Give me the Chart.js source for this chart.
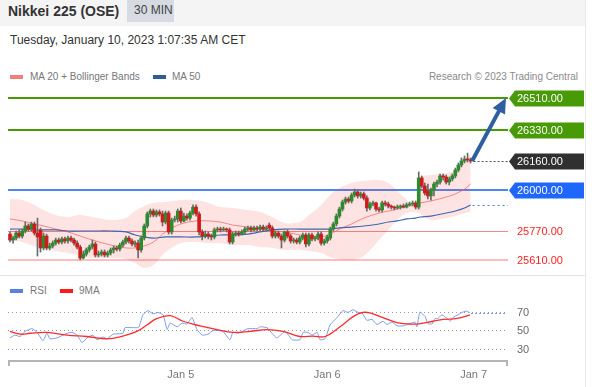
<!DOCTYPE html>
<html><head><meta charset="utf-8">
<script src="https://cdn.jsdelivr.net/npm/chart.js@4.4.1/dist/chart.umd.min.js"></script>
<style>
html,body{margin:0;padding:0;background:#fff}
body{width:599px;height:387px;position:relative;overflow:hidden;font-family:"Liberation Sans",Arial,sans-serif}
.abs{position:absolute;white-space:nowrap}
#hdr{left:0;top:0;width:585px;height:26px;background:#f4f4f4}
#title{left:8px;top:4px;font-size:14px;line-height:14px;font-weight:bold;color:#333}
#tf{left:127px;top:0;width:47px;height:22px;background:#d6dae1}
#tfTxt{left:134px;top:4px;font-size:12px;line-height:12px;color:#444}
#date{left:10px;top:34px;font-size:12px;line-height:12px;color:#333}
.lg{font-size:10px;line-height:10px;color:#777}
.sw{width:13px;height:4px}
#vline{left:585px;top:0;width:1px;height:387px;background:#e8e8e8}
#hline{left:0;top:275px;width:585px;height:1px;background:#e4e4e4}
canvas{position:absolute;left:0}
</style></head>
<body>
<div id="hdr" class="abs"></div>
<div id="title" class="abs">Nikkei 225 (OSE)</div>
<div id="tf" class="abs"></div>
<div id="tfTxt" class="abs">30 MIN</div>
<div id="date" class="abs">Tuesday, January 10, 2023 1:07:35 AM CET</div>
<div class="abs sw" style="left:10px;top:75px;background:#f08080"></div>
<div class="abs lg" style="left:30px;top:72px">MA 20 + Bollinger Bands</div>
<div class="abs sw" style="left:153px;top:75px;background:#2f5d9c"></div>
<div class="abs lg" style="left:172px;top:72px">MA 50</div>
<div class="abs lg" style="right:21px;top:72px;color:#8a8a8a">Research © 2023 Trading Central</div>
<div class="abs sw" style="left:10px;top:289px;background:#5b80e0"></div>
<div class="abs lg" style="left:30px;top:286px">RSI</div>
<div class="abs sw" style="left:60px;top:289px;background:#ff1a1a"></div>
<div class="abs lg" style="left:79px;top:286px">9MA</div>
<div id="vline" class="abs"></div>
<div id="hline" class="abs"></div>
<canvas id="main" width="599" height="185" style="top:88px"></canvas>
<canvas id="rsi" width="599" height="91" style="top:296px"></canvas>
<script>
// ---- candle data (30 min bars) ----
const opens=[25754,25721,25732,25760,25743,25771,25799,25782,25810,25760,
25777,25677,25743,25677,25688,25704,25721,25710,25727,25716,
25732,25721,25704,25682,25621,25643,25666,25682,25699,25638,
25643,25654,25638,25649,25666,25677,25671,25693,25710,25732,
25716,25699,25704,25666,25732,25799,25866,25882,25860,25877,
25866,25821,25871,25766,25832,25838,25882,25827,25854,25843,
25871,25904,25866,25766,25743,25754,25743,25738,25777,25782,
25777,25782,25777,25710,25754,25760,25754,25766,25782,25788,
25777,25788,25782,25793,25782,25804,25788,25743,25760,25743,
25721,25766,25743,25716,25721,25710,25732,25749,25699,25749,
25727,25732,25754,25704,25716,25732,25782,25810,25854,25893,
25932,25949,25938,25971,25988,25966,25977,25954,25899,25921,
25927,25893,25888,25927,25921,25910,25904,25899,25904,25910,
25904,25916,25921,25927,25904,26066,26021,25993,25966,25999,
26032,26043,26077,26071,26043,26060,26077,26110,26138,26160,
26171,26166];
const highs=[25766,25743,25771,25777,25782,25821,25810,25821,25821,25843,
25788,25760,25754,25704,25716,25732,25732,25738,25738,25743,
25743,25732,25716,25693,25660,25677,25693,25721,25710,25660,
25666,25666,25660,25677,25688,25688,25704,25721,25743,25743,
25727,25716,25721,25743,25810,25877,25893,25893,25888,25888,
25882,25882,25882,25843,25854,25893,25899,25871,25866,25882,
25916,25916,25877,25777,25771,25766,25754,25788,25793,25793,
25793,25788,25788,25766,25771,25771,25777,25793,25799,25799,
25799,25799,25804,25804,25799,25816,25799,25771,25771,25754,
25771,25777,25754,25732,25732,25743,25760,25760,25760,25760,
25743,25766,25766,25727,25749,25793,25821,25866,25904,25943,
25960,25960,25982,26004,25999,25988,25988,25966,25932,25938,
25932,25904,25938,25938,25932,25916,25910,25916,25916,25921,
25927,25932,25938,25938,26099,26077,26038,26032,26010,26043,
26054,26088,26088,26082,26071,26088,26121,26149,26177,26188,
26204,26177];
const lows=[25710,25704,25721,25732,25732,25760,25771,25771,25749,25632,
25654,25666,25666,25666,25677,25693,25699,25699,25704,25704,
25710,25693,25671,25610,25616,25632,25654,25671,25627,25627,
25632,25627,25627,25638,25649,25660,25660,25682,25699,25704,
25688,25682,25621,25654,25721,25788,25849,25849,25849,25854,
25799,25810,25754,25754,25821,25821,25816,25821,25832,25832,
25860,25854,25749,25721,25732,25727,25721,25727,25766,25766,
25771,25766,25699,25699,25743,25743,25749,25754,25771,25766,
25771,25771,25771,25771,25771,25777,25732,25732,25732,25677,
25710,25732,25704,25704,25699,25699,25721,25682,25688,25716,
25716,25721,25693,25693,25704,25721,25771,25799,25843,25882,
25921,25927,25927,25960,25954,25954,25943,25882,25888,25910,
25882,25877,25877,25910,25899,25893,25888,25893,25893,25899,
25899,25910,25910,25893,25893,26010,25971,25949,25943,25966,
26016,26032,26054,26032,26027,26049,26066,26099,26127,26149,
26154,26149];
const closes=[25721,25732,25760,25743,25771,25799,25782,25810,25760,25738,
25677,25743,25677,25688,25704,25721,25710,25727,25716,25732,
25721,25704,25682,25621,25643,25666,25682,25699,25638,25643,
25654,25638,25649,25666,25677,25671,25693,25710,25732,25716,
25699,25704,25666,25732,25799,25866,25882,25860,25877,25866,
25821,25871,25766,25832,25838,25882,25827,25854,25843,25871,
25904,25866,25766,25743,25754,25743,25738,25777,25782,25777,
25782,25777,25710,25754,25760,25754,25766,25782,25788,25777,
25788,25782,25793,25782,25788,25788,25743,25760,25743,25721,
25766,25743,25716,25721,25710,25732,25749,25699,25749,25727,
25732,25754,25704,25716,25738,25782,25810,25854,25893,25932,
25949,25938,25971,25988,25966,25977,25954,25899,25921,25927,
25893,25888,25927,25921,25910,25904,25899,25904,25910,25904,
25916,25921,25927,25904,26066,26021,25982,25966,25999,26032,
26043,26077,26071,26043,26060,26077,26110,26138,26160,26171,
26166,26160];

// ---- indicators (read at sample bars) ----
const bandIdx=[0,4,8,11,15,19,23,27,33,38,41,44,47,51,56,61,65,69,73,78,82,86,90,95,98,102,105,108,112,116,121,124,127,130,133,134.5,138,143,146,149,151];
const bbUpper=[25949,25943,25916,25888,25860,25849,25860,25849,25832,25843,25882,25910,25927,25932,25943,25943,25927,25904,25899,25888,25877,25849,25816,25821,25860,25916,25971,26010,26038,26049,26054,26038,25993,25943,25904,26066,26082,26093,26110,26166,26204];
const bbLower=[25721,25710,25688,25677,25660,25649,25632,25621,25621,25616,25593,25566,25582,25654,25704,25710,25704,25704,25693,25693,25682,25677,25666,25666,25660,25649,25627,25616,25610,25632,25721,25777,25832,25871,25877,25866,25832,25843,25854,25871,25877];
const ma20=[25838,25827,25810,25799,25782,25766,25743,25721,25693,25677,25677,25688,25710,25766,25810,25827,25827,25821,25804,25793,25782,25771,25766,25749,25743,25738,25754,25782,25810,25843,25871,25882,25893,25910,25916,25927,25938,25960,25977,26004,26032];
const ma50=[25782,25782,25777,25777,25777,25771,25771,25771,25771,25766,25749,25738,25732,25738,25738,25738,25743,25749,25749,25754,25766,25777,25782,25782,25782,25782,25782,25788,25793,25799,25810,25821,25827,25838,25843,25849,25854,25871,25882,25899,25916];

// ---- levels ----
const levels=[26510,26330,26160,26000,25770,25610];
const arrowFrom=[151.5,26160];
const arrowTo=[162.6,26510];

// ---- RSI ----
const rsiIdx=[0,1.6,3.3,4.9,7.2,8.9,10.8,12.1,13.1,15.4,18.7,20.3,22,23.6,25.6,27.2,28.5,30.5,31.8,33.8,37,37.7,41.6,42.3,43.6,45.2,46.9,48.5,50.2,51.5,52.5,54.8,56.4,58,59.7,61.3,63,64.9,66.6,69.8,72.1,73.1,74.8,78,81,82,84.3,85.9,87.5,90.2,92.5,95.1,96.1,97.7,99,100.7,101.6,103.3,104.9,107.2,109.2,110.8,112.5,114.1,115.4,117,118.7,120.3,122.3,123.6,125.2,126.9,128.9,131.1,132.8,133.4,134.4,136.1,137,138.4,139.3,140.3,141.6,143.3,144.3,145.2,146.9,148.5,149.8,150.8];
const rsiVal=[42,45,43.5,49,52,48,39,47,41,42,47,48,45,37,43,45,40,43,41,46,47,53,53,54,67,71.5,68,69.5,67,51,58,54,58,57,64,51,45,46,50,49,40,48,47,52,52,54,53,47,42,49,40,40,48,48,45,48,40,41,56,64,71.5,69.5,72.5,69.5,69,61,62,56.5,60,56.5,59,55,55,57.5,59,54,70,65,57.5,57,63,63,67,63,60,64,67,70,71,69];
const rsiMaIdx=[0,3.3,6.6,12.1,18.7,25.2,31.8,37,41.6,44.9,48.2,52.5,56.7,62.3,67.9,73.1,78.7,84.3,89.5,95.1,99.3,103.3,108.2,112.5,115.7,118,122.3,126.9,131.1,133.4,138.7,142,146.6,150.8];
const rsiMaVal=[49,46,47,48,45,43.5,41,44,49,56,63,66,60,55,51,48,49,51,49,43.5,44,43.5,54,65,69.5,69,64,58.5,57,57,60,62,63,67];
const rsiTicks=[70,50,30];
const dayTicks=[56,104,152];
const dayLabels=['Jan 5','Jan 6','Jan 7'];

const X_MIN=-0.66, X_MAX=163.27;
const FONT='"Liberation Sans", Arial, sans-serif';

const levelStyle=[
  {line:'#489a06', w:2, box:'#489a06', txt:'#fff'},
  {line:'#489a06', w:2, box:'#489a06', txt:'#fff'},
  {line:'#555', w:1, dash:[2,2], box:'#303030', txt:'#fff', current:true},
  {line:'#4f86f0', w:2, box:'#1f66fa', txt:'#fff'},
  {line:'#f08a8a', w:1, box:null, txt:'#ff2222'},
  {line:'#ffbcbc', w:2, box:null, txt:'#ff2222'}
];

const pts=(xs,ys)=>xs.map((v,i)=>({x:v,y:ys[i]}));

const mainDeco={
  id:'mainDeco',
  beforeDatasetsDraw(chart){
    const {ctx,chartArea:a,scales:{y}}=chart;
    ctx.save();
    levels.forEach((lv,k)=>{
      const s=levelStyle[k]; if(s.current) return;
      const py=Math.round(y.getPixelForValue(lv))+(s.w%2?0.5:0);
      ctx.strokeStyle=s.line; ctx.lineWidth=s.w; ctx.setLineDash([]);
      ctx.beginPath(); ctx.moveTo(a.left,py); ctx.lineTo(a.right,py); ctx.stroke();
    });
    ctx.restore();
  },
  afterDraw(chart){
    const {ctx,chartArea:a,scales:{x,y}}=chart;
    ctx.save();
    const lastI=closes.length-1;
    levels.forEach((lv,k)=>{
      const s=levelStyle[k]; if(!s.current) return;
      const py=Math.round(y.getPixelForValue(lv))+0.5;
      ctx.strokeStyle=s.line; ctx.lineWidth=1; ctx.setLineDash(s.dash);
      ctx.beginPath(); ctx.moveTo(x.getPixelForValue(lastI)+3,py); ctx.lineTo(a.right,py); ctx.stroke();
    });
    const m50=ma50[ma50.length-1];
    const py50=Math.round(y.getPixelForValue(m50))+0.5;
    ctx.strokeStyle='#5a7fc4'; ctx.lineWidth=1; ctx.setLineDash([2,3]);
    ctx.beginPath(); ctx.moveTo(x.getPixelForValue(bandIdx[bandIdx.length-1])+2,py50); ctx.lineTo(a.right,py50); ctx.stroke();
    ctx.setLineDash([]);
    ctx.font='11px '+FONT; ctx.textBaseline='middle'; ctx.textAlign='left';
    levels.forEach((lv,k)=>{
      const s=levelStyle[k];
      const py=Math.round(y.getPixelForValue(lv));
      const L=a.right+1;
      if(s.box){
        ctx.fillStyle=s.box;
        ctx.beginPath(); ctx.moveTo(L,py+0.5); ctx.lineTo(L+6,py-7.5); ctx.lineTo(584,py-7.5);
        ctx.lineTo(584,py+8.5); ctx.lineTo(L+6,py+8.5); ctx.closePath(); ctx.fill();
      }
      ctx.fillStyle=s.txt;
      ctx.fillText(lv.toFixed(2),517,py+1);
    });
    const x0=x.getPixelForValue(arrowFrom[0]), y0=y.getPixelForValue(arrowFrom[1]);
    const x1=x.getPixelForValue(arrowTo[0]), y1=y.getPixelForValue(arrowTo[1]);
    const ang=Math.atan2(y1-y0,x1-x0), hl=15, hw=7;
    const bx=x1-hl*Math.cos(ang), by=y1-hl*Math.sin(ang);
    ctx.strokeStyle='#2e5f9f'; ctx.fillStyle='#2e5f9f'; ctx.lineWidth=4; ctx.lineCap='butt';
    ctx.beginPath(); ctx.moveTo(x0,y0); ctx.lineTo(bx+Math.cos(ang),by+Math.sin(ang)); ctx.stroke();
    ctx.beginPath(); ctx.moveTo(x1,y1);
    ctx.lineTo(bx+hw*Math.sin(ang),by-hw*Math.cos(ang));
    ctx.lineTo(bx-hw*Math.sin(ang),by+hw*Math.cos(ang));
    ctx.closePath(); ctx.fill();
    ctx.restore();
  }
};

const idx=closes.map((_,i)=>i);
const bodyColors=closes.map((c,i)=>c>=opens[i]?'#2d8a2d':'#d21a1a');

new Chart(document.getElementById('main'),{
  type:'bar',
  data:{datasets:[
    {type:'line',data:pts(bandIdx,bbUpper),borderColor:'rgba(0,0,0,0)',borderWidth:0,pointRadius:0,fill:'+1',backgroundColor:'rgba(250,60,60,0.14)',tension:0.35,order:10},
    {type:'line',data:pts(bandIdx,bbLower),borderColor:'rgba(0,0,0,0)',borderWidth:0,pointRadius:0,fill:false,tension:0.35,order:11},
    {type:'line',data:pts(bandIdx,ma20),borderColor:'rgba(245,100,100,0.75)',borderWidth:1,pointRadius:0,tension:0.35,fill:false,order:5},
    {type:'line',data:pts(bandIdx,ma50),borderColor:'#3d67ae',borderWidth:1.2,pointRadius:0,tension:0.35,fill:false,order:4},
    {type:'bar',data:idx.map(i=>({x:i,y:[lows[i],highs[i]]})),backgroundColor:'#6a6a6a',barThickness:1,grouped:false,order:2},
    {type:'bar',data:idx.map(i=>({x:i,y:[opens[i],closes[i]]})),backgroundColor:bodyColors,borderColor:'rgba(60,60,60,0.5)',borderWidth:0,barThickness:3,minBarLength:1,grouped:false,order:1}
  ]},
  options:{
    responsive:false,animation:false,devicePixelRatio:1,
    layout:{padding:{left:8,right:91,top:0,bottom:0}},
    scales:{
      x:{type:'linear',min:X_MIN,max:X_MAX,display:false,offset:false},
      y:{type:'linear',min:25537.8,max:26565.6,display:false}
    },
    plugins:{legend:{display:false},tooltip:{enabled:false}}
  },
  plugins:[mainDeco]
});

const rsiDeco={
  id:'rsiDeco',
  beforeDatasetsDraw(chart){
    const {ctx,chartArea:a,scales:{y}}=chart;
    ctx.save();
    ctx.strokeStyle='#9a9a9a'; ctx.lineWidth=1; ctx.setLineDash([1,3]);
    rsiTicks.forEach(v=>{
      const py=Math.round(y.getPixelForValue(v))+0.5;
      ctx.beginPath(); ctx.moveTo(a.left,py); ctx.lineTo(a.right-3,py); ctx.stroke();
    });
    ctx.restore();
  },
  afterDraw(chart){
    const {ctx,chartArea:a,scales:{x,y}}=chart;
    ctx.save();
    const lv=rsiVal[rsiVal.length-1];
    const py=Math.round(y.getPixelForValue(lv))+0.5;
    ctx.strokeStyle='#7b9be8'; ctx.lineWidth=1; ctx.setLineDash([2,2]);
    ctx.beginPath(); ctx.moveTo(x.getPixelForValue(rsiIdx[rsiIdx.length-1])+1,py); ctx.lineTo(a.right-1,py); ctx.stroke();
    ctx.setLineDash([]);
    ctx.strokeStyle='#b4b4b4'; ctx.lineWidth=2;
    ctx.beginPath(); ctx.moveTo(a.left+1,a.bottom+5); ctx.lineTo(a.left+1,a.bottom); ctx.lineTo(a.right-1,a.bottom); ctx.lineTo(a.right-1,a.bottom+5); ctx.stroke();
    ctx.fillStyle='#777'; ctx.font='11px '+FONT; ctx.textAlign='center'; ctx.textBaseline='alphabetic';
    dayTicks.forEach((d,i)=>ctx.fillText(dayLabels[i],x.getPixelForValue(d),a.bottom+17));
    ctx.textAlign='left'; ctx.textBaseline='middle'; ctx.fillStyle='#6a6a6a';
    rsiTicks.forEach(v=>ctx.fillText(String(v),517,Math.round(y.getPixelForValue(v))+0.5));
    ctx.restore();
  }
};

new Chart(document.getElementById('rsi'),{
  type:'line',
  data:{datasets:[
    {data:pts(rsiMaIdx,rsiMaVal),borderColor:'#ff2b2b',borderWidth:1.3,pointRadius:0,tension:0.4,fill:false},
    {data:pts(rsiIdx,rsiVal),borderColor:'#7d9ce9',borderWidth:1,pointRadius:0,tension:0.15,fill:false}
  ]},
  options:{
    responsive:false,animation:false,devicePixelRatio:1,
    layout:{padding:{left:8,right:91,top:4,bottom:26}},
    scales:{
      x:{type:'linear',min:X_MIN,max:X_MAX,display:false,offset:false},
      y:{type:'linear',min:17.02,max:82.97,display:false}
    },
    plugins:{legend:{display:false},tooltip:{enabled:false}}
  },
  plugins:[rsiDeco]
});
</script>
</body></html>
